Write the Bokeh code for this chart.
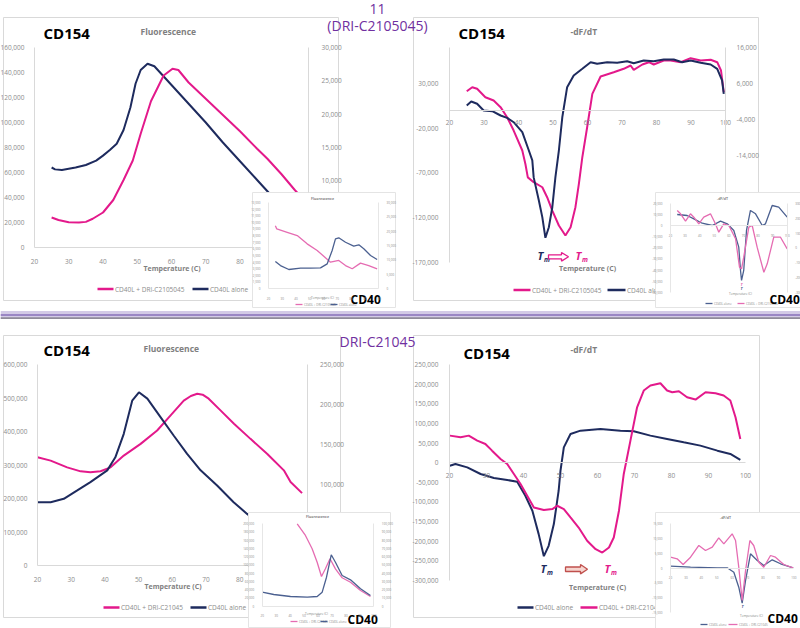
import numpy as np
from bokeh.plotting import figure
from bokeh.models import Range1d, LinearAxis, FixedTicker, NumeralTickFormatter
from bokeh.core.properties import value
from bokeh.embed import file_html
from bokeh.resources import INLINE

# ---------------- data ----------------
# Top-left: CD154 fluorescence, DRI-C2105045
TL_T_PINK = [25, 27, 30, 33, 35, 37, 40, 43, 46, 48.7, 51, 54, 57.7, 60.3, 62, 65, 70, 75, 80, 85, 88, 92, 96, 100]
TL_PINK = [24000, 22000, 20200, 20000, 20500, 23000, 28000, 38000, 54000, 69600, 91000, 117000, 137600, 143000,
           142000, 132000, 119000, 106000, 93000, 79000, 71000, 59000, 46000, 34000]
TL_T_NAVY = [25, 26, 28, 30, 32, 35, 38, 40, 42, 44, 46, 48, 49.5, 51, 53, 55, 57, 60, 65, 70, 75, 80, 85, 88, 92, 96, 100]
TL_NAVY = [64000, 62500, 62000, 63000, 64000, 66000, 69500, 73500, 78000, 83000, 94000, 112000, 131000, 142000,
           147000, 145000, 139000, 130000, 115000, 100000, 84000, 69000, 54000, 45000, 33000, 22000, 12000]

# Top-left inset: CD40 fluorescence
TLI_T_PINK = [25, 26, 33.6, 40.9, 48.1, 55.4, 65.1, 71.1, 76, 80.9, 86.9, 92.9, 99]
TLI_PINK = [9500, 9000, 8500, 8000, 6750, 5750, 3980, 4240, 3470, 2980, 3840, 3470, 2980]
TLI_T_NAVY = [25, 28.7, 34.8, 43.3, 50.5, 57.8, 62.7, 66.3, 68.7, 71.1, 76, 82, 85.7, 89.3, 94.2, 99]
TLI_NAVY = [4080, 3470, 2870, 3070, 3070, 3120, 3730, 5750, 7510, 7670, 6990, 6400, 6600, 6010, 4990, 4380]

# Top-right: CD154 -dF/dT, DRI-C2105045
TR_T_PINK = [25, 26.6, 28, 30.4, 32.8, 34.8, 36.7, 38.6, 41.1, 42.0, 42.7, 44.4, 46.9, 48.3, 49.8, 51.7, 53.6,
             55.1, 56.5, 57.5, 58.5, 59.9, 61.4, 63.8, 67.6, 70.5, 72.5, 73.4, 75.9, 77.8, 79.2, 82.1, 84.1, 87,
             89.9, 92.8, 95.7, 97.6, 98.7, 99.5]
TR_PINK = [21200, 25700, 23900, 14500, 10800, 3400, -7800, -22700, -45000, -60000, -75000, -80400, -86000,
           -97100, -112000, -128700, -139900, -130600, -108300, -82200, -52500, -19000, 18300, 37600, 42400,
           46200, 49900, 45100, 51000, 53600, 51000, 55500, 55500, 53600, 58100, 55500, 56300, 53600, 44300, 20100]
TR_T_NAVY = [25, 26.3, 28, 29.9, 32.4, 34.8, 36.7, 38.6, 41.1, 43, 44, 44.4, 45.9, 46.9, 47.8, 48.8, 49.8, 50.7,
             51.7, 52.7, 54.1, 56, 58.5, 60.9, 62.8, 65.7, 68.6, 71.5, 73.4, 76.3, 79.2, 82.1, 85, 87.4, 89.9,
             92.8, 95.7, 97.6, 99, 99.5]
TR_NAVY = [5300, 9700, 7200, -300, -1100, -5900, -8500, -13400, -24500, -45000, -56000, -75000, -100800,
           -119400, -142400, -130600, -108300, -74800, -45000, -7800, 25700, 38700, 46200, 53600, 51800, 53600,
           52900, 54700, 52500, 55500, 54700, 56600, 56600, 53600, 55500, 52900, 51000, 46200, 33200, 18300]

# Top-right inset: CD40 -dF/dT
TRI_T_NAVY = [24.6, 31.4, 36, 41.7, 48.6, 54.3, 58.9, 63.4, 66.8, 68, 68.7, 70.2, 72.1, 74.8, 78.3, 82.9, 85.1,
              89.7, 94.2, 100]
TRI_NAVY = [10080, 9180, 6200, 2230, 160, 4040, 1690, -4350, -19400, -40400, -49400, -40400, -4350, 13700,
            10700, 160, 1690, 18200, 16700, 7640]
TRI_T_PINK = [24.6, 26.9, 30.3, 33.7, 36, 39.4, 42.8, 47.4, 50.8, 53.1, 56.5, 60, 64.6, 67.3, 68.7, 70.2, 73.7,
              76, 79.4, 84, 86.3, 90.8, 95.4, 100]
TRI_PINK = [13700, 10700, 4040, 10700, 7640, 1690, 7640, 10700, 1690, -5880, 1690, 160, -11800, -37400, -38900,
            -28400, -1370, 160, -19400, -42000, -34400, -10400, -10400, -20900]

# Bottom-left: CD154 fluorescence, DRI-C21045
BL_T_PINK = [20, 23.9, 28.8, 32.8, 35.7, 38.7, 41.7, 45.6, 50.6, 55.5, 59.5, 63.4, 65.5, 67.4, 69, 70.8, 74.3,
             78.3, 83.2, 88.2, 93.1, 95.1, 98.5]
BL_PINK = [323000, 313000, 293000, 281000, 278500, 281500, 293000, 328000, 363000, 403000, 448000, 492000,
           506000, 512500, 510000, 498000, 463000, 423000, 378000, 333000, 284000, 249000, 216000]
BL_T_NAVY = [20, 23.9, 27.8, 31.8, 35.7, 40.7, 43.1, 45.6, 48.1, 50.1, 52.6, 56.5, 60.4, 64.4, 68.4, 73.3, 78.2,
             82.2, 86, 90, 95, 99]
BL_NAVY = [189000, 189000, 199000, 224000, 249000, 284000, 323000, 393000, 492000, 517000, 498000, 443000,
           388000, 333000, 284000, 239000, 189000, 154000, 125000, 100000, 75000, 55000]

# Bottom-left inset: CD40 fluorescence
BLI_T_PINK = [45.1, 51, 55.8, 59.4, 62.5, 65.3, 68.6, 72.5, 77.3, 83.3, 90.5, 97.6]
BLI_PINK = [199300, 171000, 138800, 106400, 71800, 90400, 114600, 90400, 68700, 58000, 38000, 23500]
BLI_T_NAVY = [20, 28.3, 40.3, 52.3, 59.4, 63, 66.1, 69.5, 72.5, 77.3, 83.3, 90.5, 97.6]
BLI_NAVY = [33900, 28300, 23500, 21800, 23500, 33900, 70100, 124300, 106400, 74200, 63800, 42100, 25900]

# Bottom-right: CD154 -dF/dT, DRI-C21045
BR_T_PINK = [20.1, 23, 25.2, 27.5, 29.7, 31.5, 33.8, 35.6, 37.4, 39.2, 41, 42.8, 45.5, 47.8, 49.1, 50.9, 52.7,
             54.9, 57.2, 59.5, 61.3, 63.1, 64.4, 65.8, 67.1, 68.9, 70.7, 72.5, 74.3, 77, 78.8, 80.2, 82, 84.2,
             86.5, 89.2, 91.9, 94.1, 95.9, 97.3, 98.6]
BR_PINK = [68900, 64500, 68900, 56100, 47700, 30600, 9400, -3300, -28800, -54300, -84200, -114000, -120700,
           -118100, -109700, -118100, -139500, -165100, -199000, -220200, -228800, -216100, -190600, -122400,
           -28800, 56100, 141100, 183700, 196400, 202300, 183700, 179300, 181900, 166600, 160700, 179300, 176800,
           170900, 158200, 115600, 60500]
BR_T_NAVY = [20.1, 21.6, 24.8, 28.4, 32, 35.6, 38.3, 40.5, 42.4, 44.1, 45.5, 46.8, 48.2, 49.5, 50, 50.9, 52.7,
             55.4, 60.8, 66.2, 69.8, 74.3, 78.8, 83.3, 87.8, 92.4, 95.9, 98.6]
BR_NAVY = [-7700, -3300, -12000, -28800, -39000, -44100, -48500, -84200, -122400, -181900, -238000, -211700,
           -156400, -71400, -20400, 39000, 73200, 81600, 86000, 81600, 79800, 68900, 60500, 51800, 43400, 30600,
           22200, 6900]

# Bottom-right inset: CD40 -dF/dT
BRI_T_PINK = [20, 24.3, 28.2, 33, 38.4, 42.7, 47.1, 51.3, 54.6, 60, 62.2, 64.3, 66.5, 68.7, 71.5, 74, 77.3, 80.5,
              84.9, 88.1, 93.5, 99.6]
BRI_PINK = [3670, 3120, 1190, 3670, 7640, 5940, 7060, 10250, 8210, 11600, 9330, 270, -11030, -850, 9330, 7640,
            1970, 270, 4240, 3670, 1190, 70]
BRI_T_NAVY = [20, 33, 50.3, 56.8, 61.1, 64.3, 66.5, 68.7, 71.9, 76.3, 80.5, 86, 91.4, 99.6]
BRI_NAVY = [610, 270, 70, 70, -1430, -6520, -11950, -4240, 4820, 2550, 850, 2780, 1430, 70]

TEMP_TICKS = [20, 30, 40, 50, 60, 70, 80, 90, 100]

# ---------------- style ----------------
PINK = "#e3198b"
NAVY = "#1e2b5e"
PINK_I = "#e56cb2"
NAVY_I = "#4b6090"
PURPLE = "#7030a0"
GRAY = "#8c8c8c"
TGRAY = "#7f7f7f"
FONT = "Open Sans"

W, H = 800, 628
p = figure(width=W, height=H, output_backend="svg", toolbar_location=None,
           x_range=Range1d(0, W), y_range=Range1d(H, 0),
           x_axis_location=None, y_axis_location=None, min_border=0)
p.grid.visible = False
p.outline_line_color = None
p.background_fill_color = "white"
p.border_fill_color = "white"


def add_x(name, v0, p0, v1, p1):
    k = (v1 - v0) / (p1 - p0)
    p.extra_x_ranges[name] = Range1d(start=v0 + (0 - p0) * k, end=v0 + (W - p0) * k)


def add_y(name, v0, p0, v1, p1):
    k = (v1 - v0) / (p1 - p0)
    p.extra_y_ranges[name] = Range1d(start=v0 + (H - p0) * k, end=v0 + (0 - p0) * k)


def axis(side, xn, yn, loc, bounds, ticks, size="6.5px", standoff=4, line="#d9d9d9", color=GRAY):
    ax = LinearAxis(x_range_name=xn, y_range_name=yn, fixed_location=loc, bounds=bounds,
                    ticker=FixedTicker(ticks=list(ticks)), formatter=NumeralTickFormatter(format="0,0"),
                    major_tick_line_color=None, minor_tick_line_color=None,
                    axis_line_color=line, axis_line_width=1,
                    major_label_text_font=FONT, major_label_text_font_size=size,
                    major_label_text_color=color, major_label_standoff=int(standoff))
    p.add_layout(ax, side)


def txt(x, y, s, size, color=TGRAY, style="normal", align="left", baseline="middle"):
    p.text(x=[x], y=[y], text=[s], text_font=value(FONT), text_font_size=size,
           text_font_style=style, text_color=color, text_align=align, text_baseline=baseline)


def box(l, r, t, b, line="#d9d9d9"):
    p.quad(left=[l], right=[r], top=[t], bottom=[b], fill_color="white", line_color=line, line_width=1)


def legend_item(x0, x1, y, color, label, size="6.5px", lw=2.5):
    p.line([x0, x1], [y, y], line_color=color, line_width=lw)
    txt(x1 + 1.5, y, label, size, color=GRAY)


def tm(x, y, color, big="11px", small="6.5px"):
    txt(x, y, "T", big, color=color, style="bold italic")
    txt(x + 6.5, y + 3.5, "m", small, color=color, style="bold italic")


# ---------------- separator ----------------
p.quad(left=[0], right=[800], top=[310.5], bottom=[318.5], fill_color="#d3cae6", line_color=None)
p.line([0, 800], [314.5, 314.5], line_color="#9a86c4", line_width=2)
p.line([0, 800], [317.6, 317.6], line_color="#8f8b99", line_width=1.6)

# ---------------- main panels ----------------
box(3, 338, 17, 300)
box(413, 758, 17, 300)
box(3, 340, 335, 617)
box(413, 759, 335, 617)

# headers (drawn over the panel frames)
txt(377, 8, "11", "14px", color=PURPLE, align="center")
txt(377, 25, "(DRI-C2105045)", "14px", color=PURPLE, align="center")
txt(377, 340.5, "DRI-C21045", "14px", color=PURPLE, align="center")

# Top-left
add_x("tl_x", 20, 34, 100, 308)
add_y("tl_y", 0, 247, 160000, 47)
add_y("tl_y2", 0, 247, 30000, 47)
p.line(TL_T_NAVY, TL_NAVY, x_range_name="tl_x", y_range_name="tl_y", line_color=NAVY, line_width=2)
p.line(TL_T_PINK, TL_PINK, x_range_name="tl_x", y_range_name="tl_y", line_color=PINK, line_width=2)
axis("left", "tl_x", "tl_y", 20, (0, 160000), range(0, 160001, 20000), standoff=4)
axis("below", "tl_x", "tl_y", 0, (20, 83.6), TEMP_TICKS[:7], standoff=5)
axis("right", "tl_x", "tl_y2", 100, (8250, 30000), range(10000, 30001, 5000), standoff=7)
txt(43, 32, "CD154", "15px", color="black", style="bold")
txt(140, 31, "Fluorescence", "8.5px", color=TGRAY, style="bold")
txt(171.5, 268, "Temperature (C)", "7px", color=TGRAY, style="bold", align="center")
legend_item(97, 113, 288.5, PINK, "CD40L + DRI-C2105045")
legend_item(192, 208, 288.5, NAVY, "CD40L alone")

# Top-right
add_x("tr_x", 20, 449, 100, 725)
add_y("tr_y", -170000, 262, 70000, 47)
add_y("tr_y2", -44000, 262, 16000, 47)
p.line(TR_T_PINK, TR_PINK, x_range_name="tr_x", y_range_name="tr_y", line_color=PINK, line_width=2)
p.line(TR_T_NAVY, TR_NAVY, x_range_name="tr_x", y_range_name="tr_y", line_color=NAVY, line_width=2)
axis("left", "tr_x", "tr_y", 20, (-170000, 70000), [-170000, -120000, -70000, -20000, 30000], standoff=5)
axis("below", "tr_x", "tr_y", 0, (20, 100), TEMP_TICKS, standoff=4)
axis("right", "tr_x", "tr_y2", 100, (-24470, 16000), [-14000, -4000, 6000, 16000], standoff=5)
txt(458, 32, "CD154", "15px", color="black", style="bold")
txt(570, 31, "-dF/dT", "8.5px", color=TGRAY, style="bold")
txt(587, 268, "Temperature (C)", "7px", color=TGRAY, style="bold", align="center")
legend_item(513, 530, 289.5, PINK, "CD40L + DRI-C2105045")
legend_item(607, 625, 289.5, NAVY, "CD40L alone")
tm(537, 255, NAVY)
p.patch([548, 561, 561, 568, 561, 561, 548], [254.3, 254.3, 252, 256.3, 260.6, 258.3, 258.3],
        fill_color="white", line_color=PINK, line_width=1.3)
tm(575, 255, PINK)

# Bottom-left
add_x("bl_x", 20, 37, 100, 306.6)
add_y("bl_y", 0, 565, 600000, 364)
add_y("bl_y2", 0, 564, 250000, 364)
p.line(BL_T_PINK, BL_PINK, x_range_name="bl_x", y_range_name="bl_y", line_color=PINK, line_width=2)
p.line(BL_T_NAVY, BL_NAVY, x_range_name="bl_x", y_range_name="bl_y", line_color=NAVY, line_width=2)
axis("left", "bl_x", "bl_y", 20, (0, 600000), range(0, 600001, 100000), standoff=4)
axis("below", "bl_x", "bl_y", 0, (20, 82.6), TEMP_TICKS[:7], standoff=5)
axis("right", "bl_x", "bl_y2", 100, (65000, 250000), range(100000, 250001, 50000), standoff=7)
txt(43, 349, "CD154", "15px", color="black", style="bold")
txt(143, 348, "Fluorescence", "8.5px", color=TGRAY, style="bold")
txt(172.5, 586, "Temperature (C)", "7px", color=TGRAY, style="bold", align="center")
legend_item(103, 119, 607, PINK, "CD40L + DRI-C21045")
legend_item(190, 206, 607, NAVY, "CD40L alone")

# Bottom-right
add_x("br_x", 20, 449, 100, 745)
add_y("br_y", -300000, 580, 250000, 364)
p.line(BR_T_NAVY, BR_NAVY, x_range_name="br_x", y_range_name="br_y", line_color=NAVY, line_width=2)
p.line(BR_T_PINK, BR_PINK, x_range_name="br_x", y_range_name="br_y", line_color=PINK, line_width=2)
axis("left", "br_x", "br_y", 20, (-300000, 250000), range(-300000, 250001, 50000), standoff=5)
axis("below", "br_x", "br_y", 0, (20, 100), TEMP_TICKS, standoff=4)
txt(463, 352, "CD154", "15px", color="black", style="bold")
txt(570, 349, "-dF/dT", "8.5px", color=TGRAY, style="bold")
txt(597, 587, "Temperature (C)", "7px", color=TGRAY, style="bold", align="center")
legend_item(517, 533, 607, NAVY, "CD40L alone")
legend_item(580, 597, 607, PINK, "CD40L + DRI-C21045")
tm(540, 568, NAVY)
p.patch([565, 580, 580, 587, 580, 580, 565], [566.5, 566.5, 564, 568.7, 573.4, 571, 571],
        fill_color="#f6d5cf", line_color="#c0504d", line_width=1.3)
tm(604, 568, PINK)

# ---------------- insets ----------------
IS = "3px"
# Top-left inset
box(252, 395, 192, 307, line="#e4e4e4")
add_x("tli_x", 20, 268, 100, 378)
add_y("tli_y", 0, 288, 13000, 202)
add_y("tli_y2", 0, 288, 30000, 202)
p.line(TLI_T_PINK, TLI_PINK, x_range_name="tli_x", y_range_name="tli_y", line_color=PINK_I, line_width=1.3)
p.line(TLI_T_NAVY, TLI_NAVY, x_range_name="tli_x", y_range_name="tli_y", line_color=NAVY_I, line_width=1.3)
axis("left", "tli_x", "tli_y", 20, (0, 13000), range(0, 13001, 1000), size=IS, standoff=2, line="#e6e6e6")
axis("below", "tli_x", "tli_y", 0, (20, 100), TEMP_TICKS, size=IS, standoff=2, line="#e6e6e6")
axis("right", "tli_x", "tli_y2", 100, (0, 30000), range(0, 30001, 5000), size=IS, standoff=2, line="#e6e6e6")
txt(322, 197.5, "Fluorescence", "3.5px", color=TGRAY, style="bold", align="center")
txt(322, 297, "Temperature (C)", "3px", color=TGRAY, align="center")
legend_item(295, 302, 304, PINK_I, "CD40L + DRI-C2105045", size="3px", lw=1.3)
legend_item(330, 337, 304, NAVY_I, "CD40L alone", size="3px", lw=1.3)
txt(350, 298.5, "CD40", "12px", color="black", style="bold")

# Top-right inset
box(655, 800, 192, 307, line="#e4e4e4")
add_x("tri_x", 20, 670, 100, 786.7)
add_y("tri_y", -60000, 291.7, 20000, 203)
add_y("tri_y2", -300, 291.7, 300, 203)
p.line(TRI_T_NAVY, TRI_NAVY, x_range_name="tri_x", y_range_name="tri_y", line_color=NAVY_I, line_width=1.3)
p.line(TRI_T_PINK, TRI_PINK, x_range_name="tri_x", y_range_name="tri_y", line_color=PINK_I, line_width=1.3)
axis("left", "tri_x", "tri_y", 20, (-60000, 20000), range(-60000, 20001, 10000), size=IS, standoff=2, line="#e6e6e6")
axis("below", "tri_x", "tri_y", 0, (20, 100), TEMP_TICKS, size=IS, standoff=2, line="#e6e6e6")
axis("right", "tri_x", "tri_y2", 100, (-300, 300), range(-300, 301, 100), size=IS, standoff=2, line="#e6e6e6")
txt(722, 198, "-dF/dT", "3.5px", color=TGRAY, style="bold", align="center")
txt(740, 293.5, "Temperature (C)", "3px", color=TGRAY, align="center")
txt(740, 284, "T", "4px", color=PINK_I, style="bold italic")
txt(740, 288, "T", "4px", color=NAVY_I, style="bold italic")
legend_item(705, 712, 303, NAVY_I, "CD40L alone", size="3px", lw=1.3)
legend_item(737, 744, 303, PINK_I, "CD40L + DRI-C2105045", size="3px", lw=1.3)
txt(769, 298.5, "CD40", "12px", color="black", style="bold")

# Bottom-left inset
box(248, 390, 512, 627, line="#e4e4e4")
add_x("bli_x", 20, 261.7, 100, 373.3)
add_y("bli_y", 0, 605.7, 200000, 523)
add_y("bli_y2", 0, 605.7, 100000, 523)
p.line(BLI_T_PINK, BLI_PINK, x_range_name="bli_x", y_range_name="bli_y", line_color=PINK_I, line_width=1.3)
p.line(BLI_T_NAVY, BLI_NAVY, x_range_name="bli_x", y_range_name="bli_y", line_color=NAVY_I, line_width=1.3)
axis("left", "bli_x", "bli_y", 20, (0, 200000), range(0, 200001, 20000), size=IS, standoff=2, line="#e6e6e6")
axis("below", "bli_x", "bli_y", 0, (20, 100), TEMP_TICKS, size=IS, standoff=2, line="#e6e6e6")
axis("right", "bli_x", "bli_y2", 100, (0, 100000), range(0, 100001, 10000), size=IS, standoff=2, line="#e6e6e6")
txt(317, 516, "Fluorescence", "3.5px", color=TGRAY, style="bold", align="center")
txt(316, 613.3, "Temperature (C)", "3px", color=TGRAY, align="center")
legend_item(290, 297, 621, PINK_I, "CD40L + DRI-C21045", size="3px", lw=1.3)
legend_item(320, 327, 621, NAVY_I, "CD40L alone", size="3px", lw=1.3)
txt(347, 619, "CD40", "12px", color="black", style="bold")

# Bottom-right inset
box(655, 800, 512, 628, line="#e4e4e4")
add_x("bri_x", 20, 670, 100, 793.3)
add_y("bri_y", -15000, 611.7, 15000, 523.3)
p.line(BRI_T_NAVY, BRI_NAVY, x_range_name="bri_x", y_range_name="bri_y", line_color=NAVY_I, line_width=1.3)
p.line(BRI_T_PINK, BRI_PINK, x_range_name="bri_x", y_range_name="bri_y", line_color=PINK_I, line_width=1.3)
axis("left", "bri_x", "bri_y", 20, (-15000, 15000), range(-15000, 15001, 5000), size=IS, standoff=2, line="#e6e6e6")
axis("below", "bri_x", "bri_y", 0, (20, 100), TEMP_TICKS, size=IS, standoff=2, line="#e6e6e6")
txt(725, 517, "-dF/dT", "3.5px", color=TGRAY, style="bold", align="center")
txt(741, 606, "T", "4px", color=NAVY_I, style="bold italic")
txt(751, 615.7, "Temperature (C)", "3px", color=TGRAY, align="center")
legend_item(700, 707, 624, NAVY_I, "CD40L alone", size="3px", lw=1.3)
legend_item(728, 737, 624, PINK_I, "CD40L + DRI-C21045", size="3px", lw=1.3)
txt(767, 618, "CD40", "12px", color="black", style="bold")

open("out.html", "w").write(file_html(p, INLINE))
